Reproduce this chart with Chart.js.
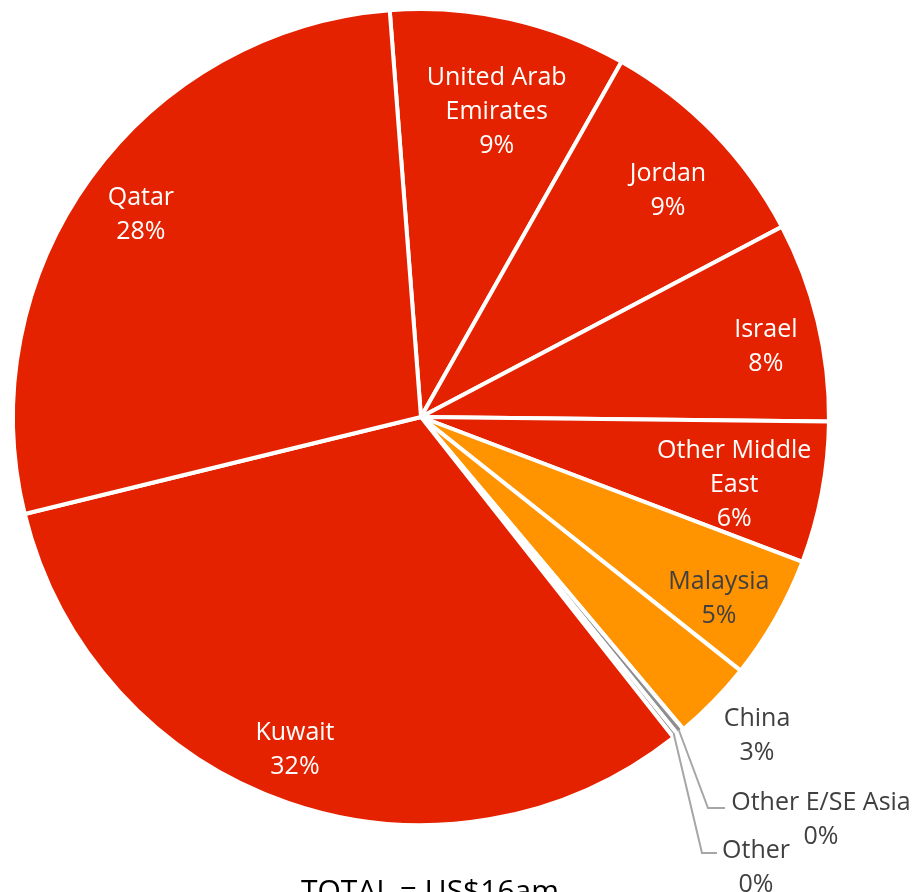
<!DOCTYPE html>
<html>
<head>
<meta charset="utf-8">
<script src="https://cdn.jsdelivr.net/npm/chart.js"></script>
<style>
  html, body { margin: 0; padding: 0; background: #fff; }
  canvas { display: block; }
</style>
</head>
<body>
<canvas id="myChart" width="914" height="892"></canvas>
<script>
// Export destinations, share of total (%)
const countries = ['United Arab Emirates', 'Jordan', 'Israel', 'Other Middle East', 'Malaysia',
                   'China', 'Other E/SE Asia', 'Other', 'Kuwait', 'Qatar'];
const shares = [9.4, 9.1, 7.9, 5.6, 4.9, 3.2, 0.3, 0.2, 31.8, 27.6];
const totalText = 'TOTAL = US$16am';

const RED = '#e52200';
const ORANGE = '#ff9300';
const GREY = '#8f8f8f';
const colours = [RED, RED, RED, RED, ORANGE, ORANGE, GREY, GREY, RED, RED];

// how the text for each slice is broken into lines
const labelLines = {
  'United Arab Emirates': ['United Arab', 'Emirates'],
  'Other Middle East': ['Other Middle', 'East']
};

// inside labels: [fraction of radius, angle nudge in degrees]
const inside = {
  'United Arab Emirates': [0.777, 1.3], 'Jordan': [0.826, 1.3], 'Israel': [0.864, 1.6],
  'Other Middle East': [0.784, 1.0], 'Malaysia': [0.852, 1.4],
  'Kuwait': [0.866, 1.9], 'Qatar': [0.851, 0.3]
};
// the small eastern slices are labelled outside the pie
const outside = {
  'China': { x: 757, y: 733 },
  'Other E/SE Asia': { x: 821, y: 817, leader: [[708, 808], [725, 808]] },
  'Other': { x: 756, y: 865, leader: [[702, 853], [717, 853]] }
};

const sum = shares.reduce((a, b) => a + b, 0);
const pct = v => Math.round(v / sum * 100) + '%';

const labelPlugin = {
  id: 'sliceLabels',
  afterDatasetsDraw(chart) {
    const ctx = chart.ctx;
    const arcs = chart.getDatasetMeta(0).data;
    ctx.save();
    ctx.font = '25px "Open Sans"';
    ctx.textAlign = 'center';
    ctx.textBaseline = 'middle';
    const lh = 34;
    arcs.forEach((arc, i) => {
      const name = countries[i];
      const lines = (labelLines[name] || [name]).concat([pct(shares[i])]);
      const mid = (arc.startAngle + arc.endAngle) / 2;
      let cx, cy;
      if (inside[name]) {
        const [f, nudge] = inside[name];
        const a = mid + nudge * Math.PI / 180;
        const r = arc.outerRadius * f;
        cx = arc.x + Math.cos(a) * r;
        cy = arc.y + Math.sin(a) * r;
        ctx.fillStyle = colours[i] === ORANGE ? '#404040' : '#ffffff';
      } else {
        const o = outside[name];
        cx = o.x; cy = o.y;
        ctx.fillStyle = '#404040';
        if (o.leader) {
          const r = arc.outerRadius - 3;
          ctx.beginPath();
          ctx.moveTo(arc.x + Math.cos(mid) * r, arc.y + Math.sin(mid) * r);
          o.leader.forEach(p => ctx.lineTo(p[0], p[1]));
          ctx.strokeStyle = '#a6a6a6';
          ctx.lineWidth = 2;
          ctx.stroke();
        }
      }
      // 'middle' sits a little high for this font, drop it by 3px
      const top = cy + 3 - (lines.length - 1) * lh / 2;
      lines.forEach((t, k) => ctx.fillText(t, cx, top + k * lh));
    });
    // total, below the pie
    ctx.font = '30px "Open Sans"';
    ctx.fillStyle = '#000';
    ctx.textBaseline = 'alphabetic';
    ctx.fillText(totalText, 430, 901);
    ctx.restore();
  }
};

new Chart(document.getElementById('myChart'), {
  type: 'pie',
  data: {
    labels: countries,
    datasets: [{
      data: shares,
      backgroundColor: colours,
      borderColor: '#ffffff',
      borderWidth: 4,
      hoverOffset: 0
    }]
  },
  options: {
    responsive: false,
    animation: false,
    rotation: -4.4,
    layout: { padding: { left: 11, top: 7, right: 83, bottom: 65 } },
    plugins: {
      legend: { display: false },
      tooltip: { enabled: false }
    }
  },
  plugins: [labelPlugin]
});
</script>
</body>
</html>
